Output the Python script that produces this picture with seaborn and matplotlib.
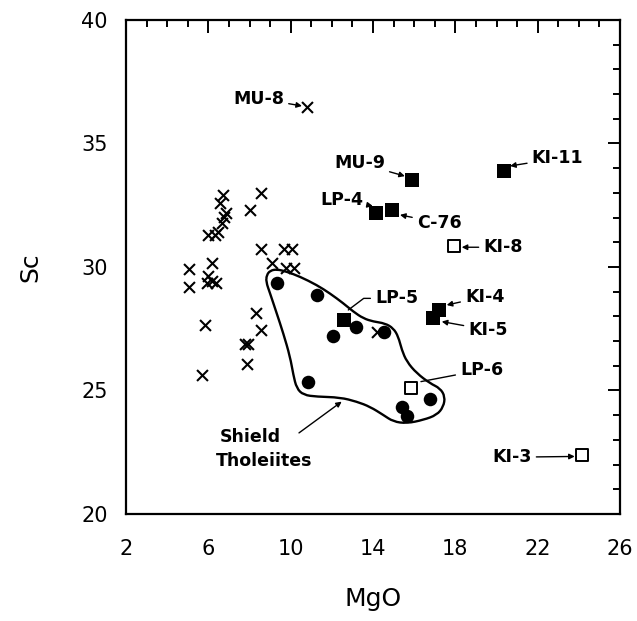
import matplotlib
matplotlib.use("Agg")
import matplotlib.pyplot as plt
import seaborn as sns
import numpy as np
import pandas as pd
from matplotlib.ticker import MultipleLocator
from matplotlib.path import Path
from matplotlib.patches import PathPatch

# ---------------- data ----------------
# other lavas (x symbols)
other_mgo = [8.54, 8.03, 6.70, 6.57, 6.84, 6.76, 6.65, 6.49, 6.00, 6.30,
             8.56, 9.68, 10.05, 9.08, 9.77, 10.16, 5.08, 5.08, 6.19, 6.00,
             5.95, 6.37, 6.20, 5.84, 8.32, 8.56, 7.78, 7.95, 7.86, 5.68,
             14.21, 10.78]
other_sc = [33.01, 32.31, 32.91, 32.60, 32.20, 32.04, 31.80, 31.43, 31.30, 31.30,
            30.73, 30.73, 30.73, 30.15, 29.97, 29.97, 29.92, 29.20, 30.15, 29.64,
            29.34, 29.34, 29.45, 27.65, 28.12, 27.45, 26.88, 26.88, 26.07, 25.63,
            27.36, 36.49]

# shield tholeiites (filled circles)
thol_mgo = [9.32, 11.30, 13.18, 12.08, 14.52, 10.86, 16.77, 15.40, 15.66]
thol_sc = [29.36, 28.87, 27.58, 27.22, 27.37, 25.36, 24.64, 24.33, 23.97]

# filled squares
fsq_names = ["MU-9", "LP-4", "C-76", "KI-11", "KI-4", "KI-5", "LP-5"]
fsq_mgo = [15.90, 14.15, 14.94, 20.38, 17.23, 16.90, 12.58]
fsq_sc = [33.52, 32.20, 32.32, 33.90, 28.26, 27.92, 27.84]

# open squares
osq_names = ["KI-8", "LP-6", "KI-3"]
osq_mgo = [17.94, 15.87, 24.14]
osq_sc = [30.86, 25.09, 22.39]

# outline of the shield tholeiite field
field_mgo = [8.84, 9.00, 9.32, 9.81, 10.45, 11.27, 11.91, 12.56, 13.05, 13.53,
             14.02, 14.58, 14.99, 15.23, 15.40, 15.64, 16.12, 16.77, 17.26, 17.50,
             17.42, 17.10, 16.45, 15.64, 14.99, 14.50, 13.86, 13.21, 12.40, 11.27,
             10.62, 10.29, 10.13, 9.97, 9.64, 9.32, 9.00, 8.80]
field_sc = [29.68, 29.85, 29.91, 29.81, 29.61, 29.27, 28.93, 28.53, 28.19, 27.92,
            27.79, 27.72, 27.52, 27.18, 26.64, 26.17, 25.70, 25.29, 25.09, 24.75,
            24.34, 24.01, 23.81, 23.67, 23.74, 24.01, 24.34, 24.55, 24.72, 24.75,
            24.82, 25.09, 25.63, 26.37, 27.32, 28.13, 28.93, 29.41]

x_ticks = [2, 6, 10, 14, 18, 22, 26]
y_ticks = [20, 25, 30, 35, 40]

# ---------------- plot ----------------
sns.set_theme(style="white")
plt.rcParams["font.family"] = ["DejaVu Sans"]

fig = plt.figure(figsize=(6.37, 6.21), dpi=100)
ax = fig.add_axes([126 / 637, 1 - 514 / 621, 494 / 637, 494 / 621])

# smooth closed outline: quadratic curve segments through the vertex list
pts = list(zip(field_mgo, field_sc))
n = len(pts)
mid = lambda a, b: ((a[0] + b[0]) / 2, (a[1] + b[1]) / 2)
verts = [mid(pts[-1], pts[0])]
codes = [Path.MOVETO]
for i in range(n):
    verts += [pts[i], mid(pts[i], pts[(i + 1) % n])]
    codes += [Path.CURVE3, Path.CURVE3]
ax.add_patch(PathPatch(Path(verts, codes), fill=False, edgecolor="black",
                       lw=1.7, zorder=1))

sns.scatterplot(x=other_mgo, y=other_sc, ax=ax, marker="x", color="black",
                edgecolor="black", s=62, linewidth=1.5, zorder=3)
sns.scatterplot(x=thol_mgo, y=thol_sc, ax=ax, marker="o", color="black",
                edgecolor="black", s=95, linewidth=0, zorder=3)
sns.scatterplot(x=fsq_mgo, y=fsq_sc, ax=ax, marker="s", color="black",
                edgecolor="black", s=90, linewidth=0, zorder=4)
sns.scatterplot(x=osq_mgo, y=osq_sc, ax=ax, marker="s", facecolor="white",
                edgecolor="black", s=75, linewidth=1.4, zorder=4)

lab_kw = dict(fontsize=12.5, fontweight="bold", color="black", va="center")
arr = dict(arrowstyle="-|>", color="black", lw=1.0, mutation_scale=8,
           shrinkA=1, shrinkB=0)
line = dict(arrowstyle="-", color="black", lw=1.0, shrinkA=1, shrinkB=0)

ax.annotate("MU-8", xy=(10.55, 36.52), xytext=(9.68, 36.82), ha="right", arrowprops=arr, **lab_kw)
ax.annotate("MU-9", xy=(15.55, 33.68), xytext=(14.58, 34.20), ha="right", arrowprops=arr, **lab_kw)
ax.annotate("LP-4", xy=(13.99, 32.47), xytext=(13.53, 32.71), ha="right", arrowprops=arr, **lab_kw)
ax.annotate("C-76", xy=(15.31, 32.11), xytext=(16.13, 31.79), ha="left", arrowprops=arr, **lab_kw)
ax.annotate("KI-11", xy=(20.66, 34.09), xytext=(21.71, 34.40), ha="left", arrowprops=arr, **lab_kw)
ax.annotate("KI-8", xy=(18.31, 30.80), xytext=(19.36, 30.80), ha="left", arrowprops=arr, **lab_kw)
ax.annotate("KI-4", xy=(17.58, 28.46), xytext=(18.47, 28.80), ha="left", arrowprops=arr, **lab_kw)
ax.annotate("KI-5", xy=(17.34, 27.79), xytext=(18.63, 27.45), ha="left", arrowprops=arr, **lab_kw)
ax.annotate("KI-3", xy=(23.80, 22.33), xytext=(21.71, 22.30), ha="right", arrowprops=arr, **lab_kw)
ax.annotate("LP-6", xy=(16.33, 25.36), xytext=(18.23, 25.83), ha="left", arrowprops=line, **lab_kw)
lp5 = dict(line)
lp5["connectionstyle"] = "angle,angleA=0,angleB=37,rad=0"
ax.annotate("LP-5", xy=(12.80, 28.26), xytext=(14.10, 28.73), ha="left", arrowprops=lp5, **lab_kw)

ax.text(6.57, 23.12, "Shield", ha="left", **lab_kw)
ax.text(6.37, 22.15, "Tholeiites", ha="left", **lab_kw)
ax.annotate("", xy=(12.48, 24.55), xytext=(10.35, 23.25), arrowprops=arr)

ax.set_xlim(2, 26)
ax.set_ylim(20, 40)
ax.set_xticks(x_ticks)
ax.set_yticks(y_ticks)
ax.xaxis.set_minor_locator(MultipleLocator(1))
ax.yaxis.set_minor_locator(MultipleLocator(1))
ax.tick_params(which="both", direction="in", top=True, right=True, width=1.4,
               color="black", labelsize=15, labelcolor="black")
ax.tick_params(which="major", length=9)
ax.tick_params(which="minor", length=5)
ax.tick_params(axis="x", which="major", pad=18)
ax.tick_params(axis="y", which="major", pad=13)
for sp in ax.spines.values():
    sp.set_color("black")
    sp.set_linewidth(1.6)
ax.set_xlabel("MgO", fontsize=18, labelpad=20, color="black")
ax.set_ylabel("Sc", fontsize=18, labelpad=28, color="black")
ax.grid(False)

fig.savefig("out.png", dpi=100, facecolor="white")
